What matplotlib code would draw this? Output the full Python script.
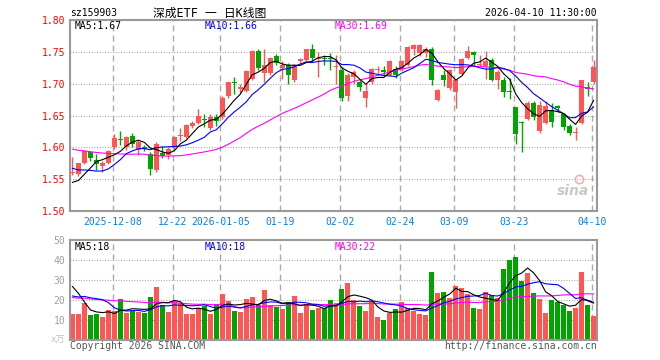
import numpy as np
import pandas as pd
import matplotlib
matplotlib.use('Agg')
import matplotlib.pyplot as plt

# 深成ETF (sz159903) daily K-line, 2025-11-27 .. 2026-04-10, 88 sessions
open_ = [1.560, 1.558, 1.576, 1.593, 1.580, 1.570, 1.576, 1.601, 1.613, 1.601,
         1.618, 1.596, 1.600, 1.590, 1.564, 1.591, 1.588, 1.601, 1.618, 1.617,
         1.634, 1.638, 1.645, 1.630, 1.648, 1.647, 1.681, 1.703, 1.692, 1.689,
         1.708, 1.752, 1.716, 1.716, 1.744, 1.724, 1.730, 1.705, 1.736, 1.737,
         1.755, 1.738, 1.741, 1.741, 1.726, 1.722, 1.680, 1.710, 1.703, 1.677,
         1.702, 1.721, 1.721, 1.714, 1.723, 1.723, 1.729, 1.754, 1.748, 1.748,
         1.755, 1.675, 1.714, 1.693, 1.687, 1.715, 1.740, 1.749, 1.729, 1.727,
         1.737, 1.706, 1.706, 1.689, 1.663, 1.640, 1.644, 1.669, 1.625, 1.639,
         1.658, 1.665, 1.652, 1.633, 1.622, 1.638, 1.694, 1.702]
high = [1.585, 1.576, 1.596, 1.595, 1.590, 1.578, 1.596, 1.621, 1.625, 1.618,
        1.623, 1.611, 1.603, 1.592, 1.608, 1.602, 1.600, 1.618, 1.630, 1.637,
        1.642, 1.660, 1.652, 1.652, 1.652, 1.680, 1.703, 1.711, 1.700, 1.721,
        1.753, 1.754, 1.755, 1.742, 1.747, 1.735, 1.733, 1.731, 1.741, 1.755,
        1.762, 1.750, 1.745, 1.748, 1.745, 1.726, 1.716, 1.722, 1.706, 1.700,
        1.725, 1.727, 1.727, 1.737, 1.727, 1.737, 1.759, 1.762, 1.762, 1.758,
        1.758, 1.692, 1.722, 1.723, 1.707, 1.740, 1.759, 1.752, 1.745, 1.751,
        1.741, 1.721, 1.710, 1.709, 1.664, 1.641, 1.673, 1.673, 1.672, 1.672,
        1.669, 1.667, 1.654, 1.637, 1.632, 1.706, 1.703, 1.737]
low = [1.557, 1.555, 1.574, 1.578, 1.565, 1.562, 1.574, 1.598, 1.604, 1.596,
       1.601, 1.588, 1.594, 1.557, 1.562, 1.584, 1.582, 1.598, 1.610, 1.615,
       1.630, 1.636, 1.632, 1.628, 1.633, 1.645, 1.678, 1.684, 1.685, 1.687,
       1.705, 1.722, 1.703, 1.714, 1.730, 1.708, 1.700, 1.703, 1.733, 1.735,
       1.735, 1.711, 1.730, 1.722, 1.700, 1.672, 1.672, 1.700, 1.689, 1.663,
       1.700, 1.717, 1.713, 1.712, 1.709, 1.720, 1.727, 1.745, 1.743, 1.742,
       1.698, 1.672, 1.696, 1.690, 1.661, 1.713, 1.738, 1.729, 1.727, 1.707,
       1.704, 1.692, 1.679, 1.676, 1.606, 1.593, 1.643, 1.643, 1.623, 1.637,
       1.632, 1.655, 1.627, 1.619, 1.612, 1.636, 1.680, 1.700]
close = [1.562, 1.575, 1.594, 1.584, 1.574, 1.576, 1.594, 1.614, 1.611, 1.617,
         1.605, 1.609, 1.597, 1.566, 1.606, 1.586, 1.598, 1.617, 1.620, 1.635,
         1.638, 1.649, 1.643, 1.648, 1.642, 1.677, 1.702, 1.701, 1.694, 1.720,
         1.752, 1.724, 1.729, 1.740, 1.732, 1.730, 1.714, 1.729, 1.738, 1.754,
         1.741, 1.741, 1.739, 1.738, 1.728, 1.678, 1.714, 1.719, 1.695, 1.689,
         1.723, 1.723, 1.719, 1.735, 1.714, 1.735, 1.757, 1.761, 1.761, 1.755,
         1.706, 1.690, 1.706, 1.721, 1.705, 1.738, 1.752, 1.745, 1.731, 1.735,
         1.706, 1.719, 1.687, 1.687, 1.621, 1.638, 1.670, 1.648, 1.666, 1.665,
         1.640, 1.662, 1.632, 1.622, 1.624, 1.705, 1.692, 1.726]
volume = [13, 13, 18.7, 12.5, 13, 11.3, 15, 14.5, 20.5, 13.5,
          14.7, 14.2, 13.7, 21.5, 26.5, 17.5, 14, 19.5, 18.3, 13,
          13, 15.8, 17, 13, 17.5, 23, 19.5, 14.5, 14, 20.5,
          21.5, 17.5, 25, 17.5, 16.5, 15.5, 19, 22, 13.5, 18,
          15, 16, 16, 20, 18.3, 25.5, 28.7, 20, 17, 14.5,
          19.5, 11.5, 10, 13.5, 15.5, 19.2, 16.2, 14.7, 13, 12.5,
          34, 23.5, 24, 21, 27, 26, 23, 16, 15.5, 24,
          22.5, 21, 35.5, 40, 41.5, 29.5, 33.5, 23.5, 20.5, 13.5,
          20, 19, 17.5, 14.5, 16, 34, 17.5, 12]

# sessions before the window: not drawn, only feed the moving averages
# (estimated from where the MA lines start on the left edge)
warm_close = [1.63, 1.62, 1.625, 1.61, 1.60, 1.615, 1.62, 1.63, 1.625, 1.61,
              1.60, 1.605, 1.615, 1.62, 1.61, 1.60, 1.605, 1.61, 1.60, 1.595,
              1.60, 1.595, 1.59, 1.585, 1.575, 1.56, 1.545, 1.535, 1.523]
warm_vol = [22, 19, 25, 18, 21, 17, 24, 20, 23, 19,
            18, 22, 26, 20, 17, 21, 19, 23, 22, 20,
            18, 16, 19, 17.5, 16, 30, 40.2, 32.5, 17.8]

holidays = ['2026-01-01', '2026-01-02', '2026-02-16', '2026-02-17', '2026-02-18',
            '2026-02-19', '2026-02-20', '2026-02-23', '2026-04-06']
tick_dates = ['2025-12-08', '2025-12-22', '2026-01-05', '2026-01-19', '2026-02-02',
              '2026-02-24', '2026-03-09', '2026-03-23', '2026-04-10']
tick_labels = ['2025-12-08', '12-22', '2026-01-05', '01-19', '02-02',
               '02-24', '03-09', '03-23', '04-10']

days = pd.bdate_range('2025-11-27', '2026-04-10')
days = days[~days.isin(pd.to_datetime(holidays))]
n = len(close)
x = np.arange(n)
tick_pos = [days.get_loc(pd.Timestamp(d)) - 0.3 for d in tick_dates]

o = np.array(open_); h = np.array(high); l = np.array(low); c = np.array(close)
v = np.array(volume)
up = c >= o

cs = pd.Series(warm_close + close)
vs = pd.Series(warm_vol + volume)
w = len(warm_close)
ma = {p: cs.rolling(p).mean().values[w:] for p in (5, 10, 30)}
vma = {p: vs.rolling(p).mean().values[w:] for p in (5, 10, 30)}

RED = '#ff5555'
GRN = '#00a400'
ma_col = {5: 'black', 10: '#0000ff', 30: '#ff00ff'}
mono = ['DejaVu Sans Mono', 'Noto Sans CJK SC']

fig = plt.figure(figsize=(6.6, 3.6), dpi=100)
W, H = 660.0, 360.0
ax = fig.add_axes([70 / W, 1 - 211 / H, 527 / W, 191 / H])
axv = fig.add_axes([70 / W, 1 - 340 / H, 527 / W, 100 / H])

for a in (ax, axv):
    for s in a.spines.values():
        s.set_color('#999999')
        s.set_linewidth(1.5)
    a.set_xlim(-2.5 / 6, 87 + 3.5 / 6)
    a.tick_params(length=0)
    a.set_xticks(tick_pos)
    for p in tick_pos:
        a.axvline(p, color='#aaaaaa', lw=1, linestyle=(0, (4.3, 2.9)), zorder=0)

# price panel
ax.set_ylim(1.50, 1.80)
pticks = [1.50, 1.55, 1.60, 1.65, 1.70, 1.75, 1.80]
ax.set_yticks(pticks)
ax.set_yticklabels(['%.2f' % t for t in pticks], color='#ff0000',
                   fontsize=7, family='DejaVu Sans Mono')
for t in pticks[1:-1]:
    ax.axhline(t, color='#999999', lw=0.8, linestyle=(0, (0.8, 1.6)), zorder=0)
ax.set_xticklabels(tick_labels, color='#0a7fd9', fontsize=7, family='DejaVu Sans Mono')
ax.tick_params(axis='x', pad=4)

cols = np.where(up, RED, GRN)
ax.vlines(x, l, h, colors=cols, lw=1, zorder=2)
body = np.maximum(np.abs(c - o), 0.0016)
ax.bar(x, body, bottom=np.minimum(o, c), width=5 / 6, color=cols, zorder=3, lw=0)
for p in (30, 10, 5):
    ax.plot(x, ma[p], color=ma_col[p], lw=0.8, zorder=4)

# volume panel
axv.set_ylim(0, 50)
vticks = [10, 20, 30, 40, 50]
axv.set_yticks(vticks)
axv.set_yticklabels([str(t) for t in vticks], color='#a0a0a0', fontsize=7,
                    family='DejaVu Sans Mono')
axv.set_xticklabels([])
for t in vticks[:-1]:
    axv.axhline(t, color='#999999', lw=0.8, linestyle=(0, (0.8, 1.6)), zorder=0)
axv.bar(x, v, width=5 / 6, color=cols, zorder=2, lw=0)
for p in (30, 10, 5):
    axv.plot(x, vma[p], color=ma_col[p], lw=0.8, zorder=4)


def ftext(px, py, s, **kw):
    fig.text(px / W, 1 - py / H, s, va='center', family=mono, **kw)


ftext(70, 13, 'sz159903', fontsize=7, color='black')
ftext(210, 13, '深成ETF 一 日K线图', fontsize=8.5, color='black', ha='center')
ftext(597, 13, '2026-04-10 11:30:00', fontsize=7, color='black', ha='right')
ftext(75, 26, 'MA5:1.67', fontsize=7, color='black')
ftext(205, 26, 'MA10:1.66', fontsize=7, color='#0000ff')
ftext(335, 26, 'MA30:1.69', fontsize=7, color='#ff00ff')
ftext(75, 246.5, 'MA5:18', fontsize=7, color='black')
ftext(205, 246.5, 'MA10:18', fontsize=7, color='#0000ff')
ftext(335, 246.5, 'MA30:22', fontsize=7, color='#ff00ff')
ftext(65, 340, 'x万', fontsize=6.5, color='#c0c0c0', ha='right')
ftext(70, 346, 'Copyright 2026 SINA.COM', fontsize=7, color='#555555')
ftext(597, 346, 'http://finance.sina.com.cn', fontsize=7, color='#555555', ha='right')

# sina watermark
ax.text(0.985, 0.07, 'sina', transform=ax.transAxes, ha='right', va='bottom',
        fontsize=10, fontweight='bold', style='italic', color='#c8c8c8', zorder=1)
ax.plot([0.965], [0.17], transform=ax.transAxes, marker='o', ms=6, mfc='none',
        mec='#f4b0b0', mew=1.2, zorder=1)

fig.savefig('out.png', dpi=100)
